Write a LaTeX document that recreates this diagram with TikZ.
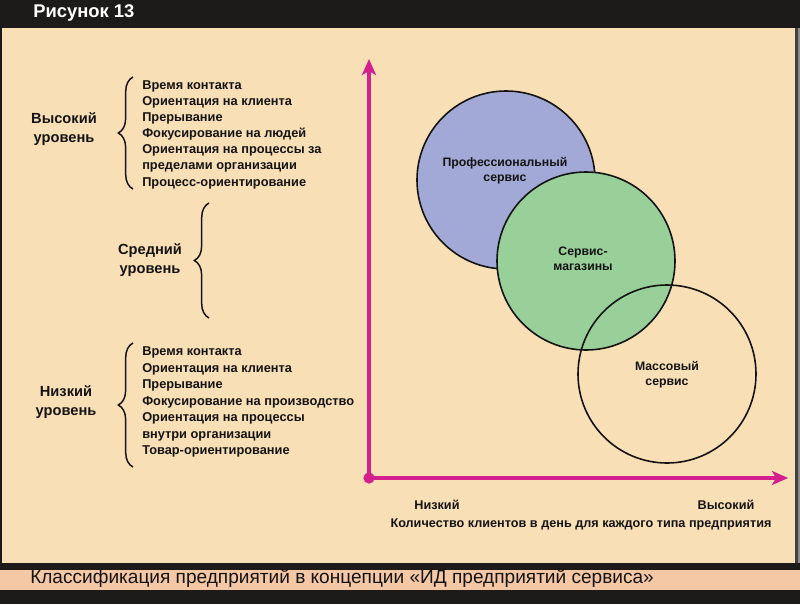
\documentclass[tikz,border=0pt]{standalone}
\usepackage{fontspec}
\setmainfont{Liberation Sans}
\usetikzlibrary{arrows.meta,decorations.pathreplacing}
\definecolor{beige}{HTML}{F9DFB6}
\definecolor{salmon}{HTML}{F5C8A5}
\definecolor{topbar}{HTML}{1C1B1A}
\definecolor{axis}{HTML}{D41F8E}
\definecolor{profblue}{HTML}{A3A9D6}
\definecolor{shopgreen}{HTML}{99CF98}
\definecolor{ink}{HTML}{141414}
\tikzset{
  item/.style={anchor=mid west, inner sep=0pt, text=ink, font=\bfseries\fontsize{9.6}{11}\selectfont},
  lvl/.style={align=center, inner sep=0pt, text=ink, font=\bfseries\fontsize{11}{14.25}\selectfont},
  clabel/.style={align=center, inner sep=0pt, text=ink, font=\bfseries\fontsize{9.2}{11.25}\selectfont},
  alabel/.style={inner sep=0pt, text=ink, font=\bfseries\fontsize{9.5}{11}\selectfont},
  bracebar/.style={draw=ink, line width=1.1pt, decorate, decoration={brace, amplitude=11pt, aspect=0.5}},
  ring/.style={circle, draw=ink, line width=1.2pt, minimum size=133.5pt, inner sep=0pt},
  axisline/.style={draw=axis, line width=2.3pt, -{Stealth[length=12pt, width=10.5pt, inset=3pt]}}
}
\begin{document}
\begin{tikzpicture}[x=0.75pt, y=-0.75pt]
\useasboundingbox (0,0) rectangle (800,604);
% background and frame
\fill[beige] (0,0) rectangle (800,604);
\fill[topbar] (0,0) rectangle (800,28);
\fill[topbar] (0,563) rectangle (800,570);
\fill[salmon] (0,570) rectangle (800,590);
\fill[topbar] (0,590) rectangle (800,604);
\fill[topbar] (0,28) rectangle (2,563);
\fill[black!75] (795,28) rectangle (798,563);
\fill[black!45] (798,28) rectangle (800,563);
% title and caption
\node[anchor=mid west, inner sep=0pt, text=white, font=\bfseries\fontsize{13.8}{16}\selectfont] (title) at (33,14) {Рисунок 13};
\node[anchor=mid west, inner sep=0pt, text=ink, font=\fontsize{14.3}{16}\selectfont] (caption) at (30,580) {Классификация предприятий в концепции «ИД предприятий сервиса»};
% high level
\node[lvl] (high) at (64,129.5) {Высокий\\уровень};
\coordinate (hb1) at (133,189);
\coordinate (hb2) at (133,77);
\draw[bracebar] (hb1) -- (hb2);
\node[item] (h1) at (142,86) {Время контакта};
\node[item] (h2) at (142,102) {Ориентация на клиента};
\node[item] (h3) at (142,118) {Прерывание};
\node[item] (h4) at (142,134) {Фокусирование на людей};
\node[item] (h5) at (142,150) {Ориентация на процессы за};
\node[item] (h6) at (142,166) {пределами организации};
\node[item] (h7) at (142,183) {Процесс-ориентирование};
% middle level
\node[lvl] (mid) at (150,260.5) {Средний\\уровень};
\coordinate (mb1) at (209,318);
\coordinate (mb2) at (209,203);
\draw[bracebar] (mb1) -- (mb2);
% low level
\node[lvl] (low) at (66,402) {Низкий\\уровень};
\coordinate (lb1) at (133,467);
\coordinate (lb2) at (133,343);
\draw[bracebar] (lb1) -- (lb2);
\node[item] (l1) at (142,352) {Время контакта};
\node[item] (l2) at (142,368.5) {Ориентация на клиента};
\node[item] (l3) at (142,385) {Прерывание};
\node[item] (l4) at (142,401.5) {Фокусирование на производство};
\node[item] (l5) at (142,418) {Ориентация на процессы};
\node[item] (l6) at (142,434.5) {внутри организации};
\node[item] (l7) at (142,451) {Товар-ориентирование};
% circles
\node[ring, fill=profblue] (prof) at (506,180) {};
\node[ring, fill=shopgreen] (shop) at (586,261) {};
\node[ring] (mass) at (667,374) {};
\node[clabel] (proft) at (505,171) {Профессиональный\\сервис};
\node[clabel] (shopt) at (583,259) {Сервис-\\магазины};
\node[clabel] (masst) at (667,375) {Массовый\\сервис};
% axes
\coordinate (O) at (369,478);
\coordinate (ytop) at (369,59);
\coordinate (xend) at (788,478);
\draw[axisline] (O) -- (ytop);
\draw[axisline] (O) -- (xend);
\fill[axis] (O) circle[radius=4.2pt];
\node[alabel] (xlow) at (437,505) {Низкий};
\node[alabel] (xhigh) at (726,505) {Высокий};
\node[alabel] (xtitle) at (581,524) {Количество клиентов в день для каждого типа предприятия};
\end{tikzpicture}
\end{document}
